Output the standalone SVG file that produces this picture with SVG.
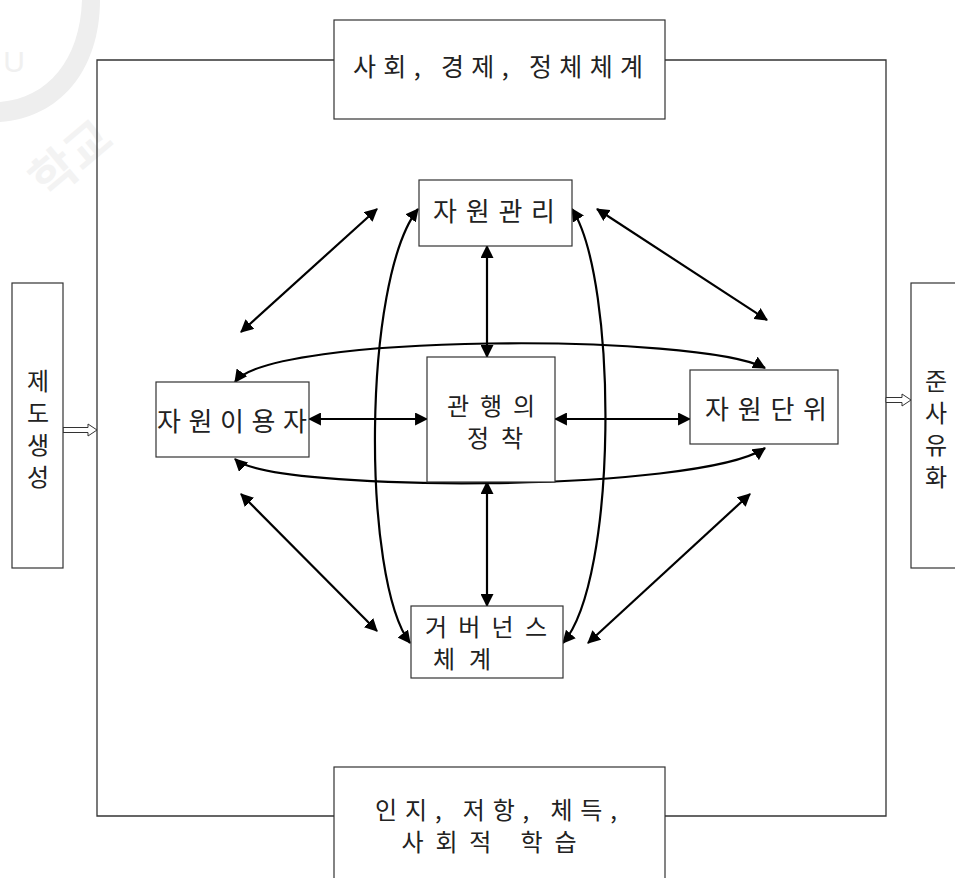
<svg xmlns="http://www.w3.org/2000/svg" width="955" height="878" viewBox="0 0 955 878">
<style>
.box{fill:#fff;stroke:#333;stroke-width:1.2}
.t{font-family:"Noto Sans CJK KR","Noto Sans",sans-serif;font-size:26px;fill:#222;text-anchor:middle}
.t2{font-family:"Noto Sans CJK KR","Noto Sans",sans-serif;font-size:24px;fill:#222;text-anchor:middle}
.tb{font-family:"Noto Sans CJK KR","Noto Sans",sans-serif;font-size:25px;fill:#222;text-anchor:middle}
.tv{font-family:"Noto Sans CJK KR","Noto Sans",sans-serif;font-size:24px;fill:#222;text-anchor:middle}
.frame{fill:none;stroke:#333;stroke-width:1.3}
.c{fill:none;stroke:#000;stroke-width:2.2;marker-start:url(#ah);marker-end:url(#ah)}
.ho{fill:#fff;stroke:#333;stroke-width:1}
.wm{fill:#eeeeee}
</style>
<defs>
<marker id="ah" viewBox="0 0 12 12" refX="11" refY="6" markerWidth="13" markerHeight="13" markerUnits="userSpaceOnUse" orient="auto-start-reverse">
<path d="M0,0 L12,6 L0,12 z" fill="#000"/>
</marker>
</defs>
<rect width="955" height="878" fill="#fff"/>
<g id="watermark">
<path class="wm" d="M100,0 C100,70 60,118 0,122 L0,102 C48,98 80,60 82,0 Z"/>
<text x="14" y="72" font-family="Liberation Sans,sans-serif" font-size="30" fill="#f0f0f0" text-anchor="middle">U</text>
<text x="0" y="0" transform="translate(82,172) rotate(-40)" font-family="Noto Sans CJK KR,sans-serif" font-size="48" font-weight="bold" fill="#f3f3f3" text-anchor="middle">학교</text>
</g>
<g id="frame">
<path class="frame" d="M334,60 H97 V816 H334 M665,816 H886 V60 H665"/>
</g>
<g id="connectors">
<path class="c" d="M487,246 L487,357"/>
<path class="c" d="M487,482 L487,606"/>
<path class="c" d="M309,419 L427,419"/>
<path class="c" d="M555,419 L690,419"/>
<path class="c" d="M377,209 L241,332"/>
<path class="c" d="M597,209 L767,320"/>
<path class="c" d="M241,494 L377,631"/>
<path class="c" d="M750,494 L588,643"/>
<path class="c" d="M418,209 C362,280 362,580 410,643"/>
<path class="c" d="M572,209 C618,280 618,580 563,643"/>
<path class="c" d="M235,382 C270,333 700,333 765,368"/>
<path class="c" d="M235,459 C270,493 700,493 765,448"/>
<polygon class="ho" points="63,427.5 88,427.5 88,424 97,430 88,436 88,432.5 63,432.5"/>
<polygon class="ho" points="886,397.5 902,397.5 902,394 911,400 902,406 902,402.5 886,402.5"/>
</g>
<g id="top">
<rect class="box" x="334" y="20" width="331" height="99"/>
<text class="tb" x="498" y="76" textLength="290" lengthAdjust="spacing">사회, 경제, 정체체계</text>
</g>
<g id="bottom">
<rect class="box" x="334" y="767" width="331" height="130"/>
<text class="t2" x="496" y="819" textLength="242" lengthAdjust="spacing">인지, 저항, 체득,</text>
<text class="t2" x="489" y="851" textLength="175" lengthAdjust="spacing">사회적 학습</text>
</g>
<g id="left">
<rect class="box" x="12" y="283" width="51" height="285"/>
<text class="tv" x="38" y="390">제</text>
<text class="tv" x="38" y="422">도</text>
<text class="tv" x="38" y="454">생</text>
<text class="tv" x="38" y="486">성</text>
</g>
<g id="right">
<rect class="box" x="911" y="283" width="60" height="285"/>
<text class="tv" x="936" y="390">준</text>
<text class="tv" x="936" y="422">사</text>
<text class="tv" x="936" y="454">유</text>
<text class="tv" x="936" y="486">화</text>
</g>
<g id="gwanri">
<rect class="box" x="419" y="180" width="153" height="66"/>
<text class="t" x="494" y="221" textLength="122" lengthAdjust="spacing">자원관리</text>
</g>
<g id="user">
<rect class="box" x="156" y="382" width="153" height="75"/>
<text class="t" x="232" y="431" textLength="150" lengthAdjust="spacing">자원이용자</text>
</g>
<g id="center">
<rect class="box" x="427" y="357" width="128" height="125"/>
<text class="t2" x="491" y="415" textLength="88" lengthAdjust="spacing">관행의</text>
<text class="t2" x="495" y="447" textLength="56" lengthAdjust="spacing">정착</text>
</g>
<g id="unit">
<rect class="box" x="690" y="370" width="148" height="74"/>
<text class="t" x="766" y="419" textLength="122" lengthAdjust="spacing">자원단위</text>
</g>
<g id="gov">
<rect class="box" x="411" y="606" width="152" height="72"/>
<text class="t2" x="486" y="636" textLength="122" lengthAdjust="spacing">거버넌스</text>
<text class="t2" x="462" y="668" textLength="58" lengthAdjust="spacing">체계</text>
</g>
</svg>
